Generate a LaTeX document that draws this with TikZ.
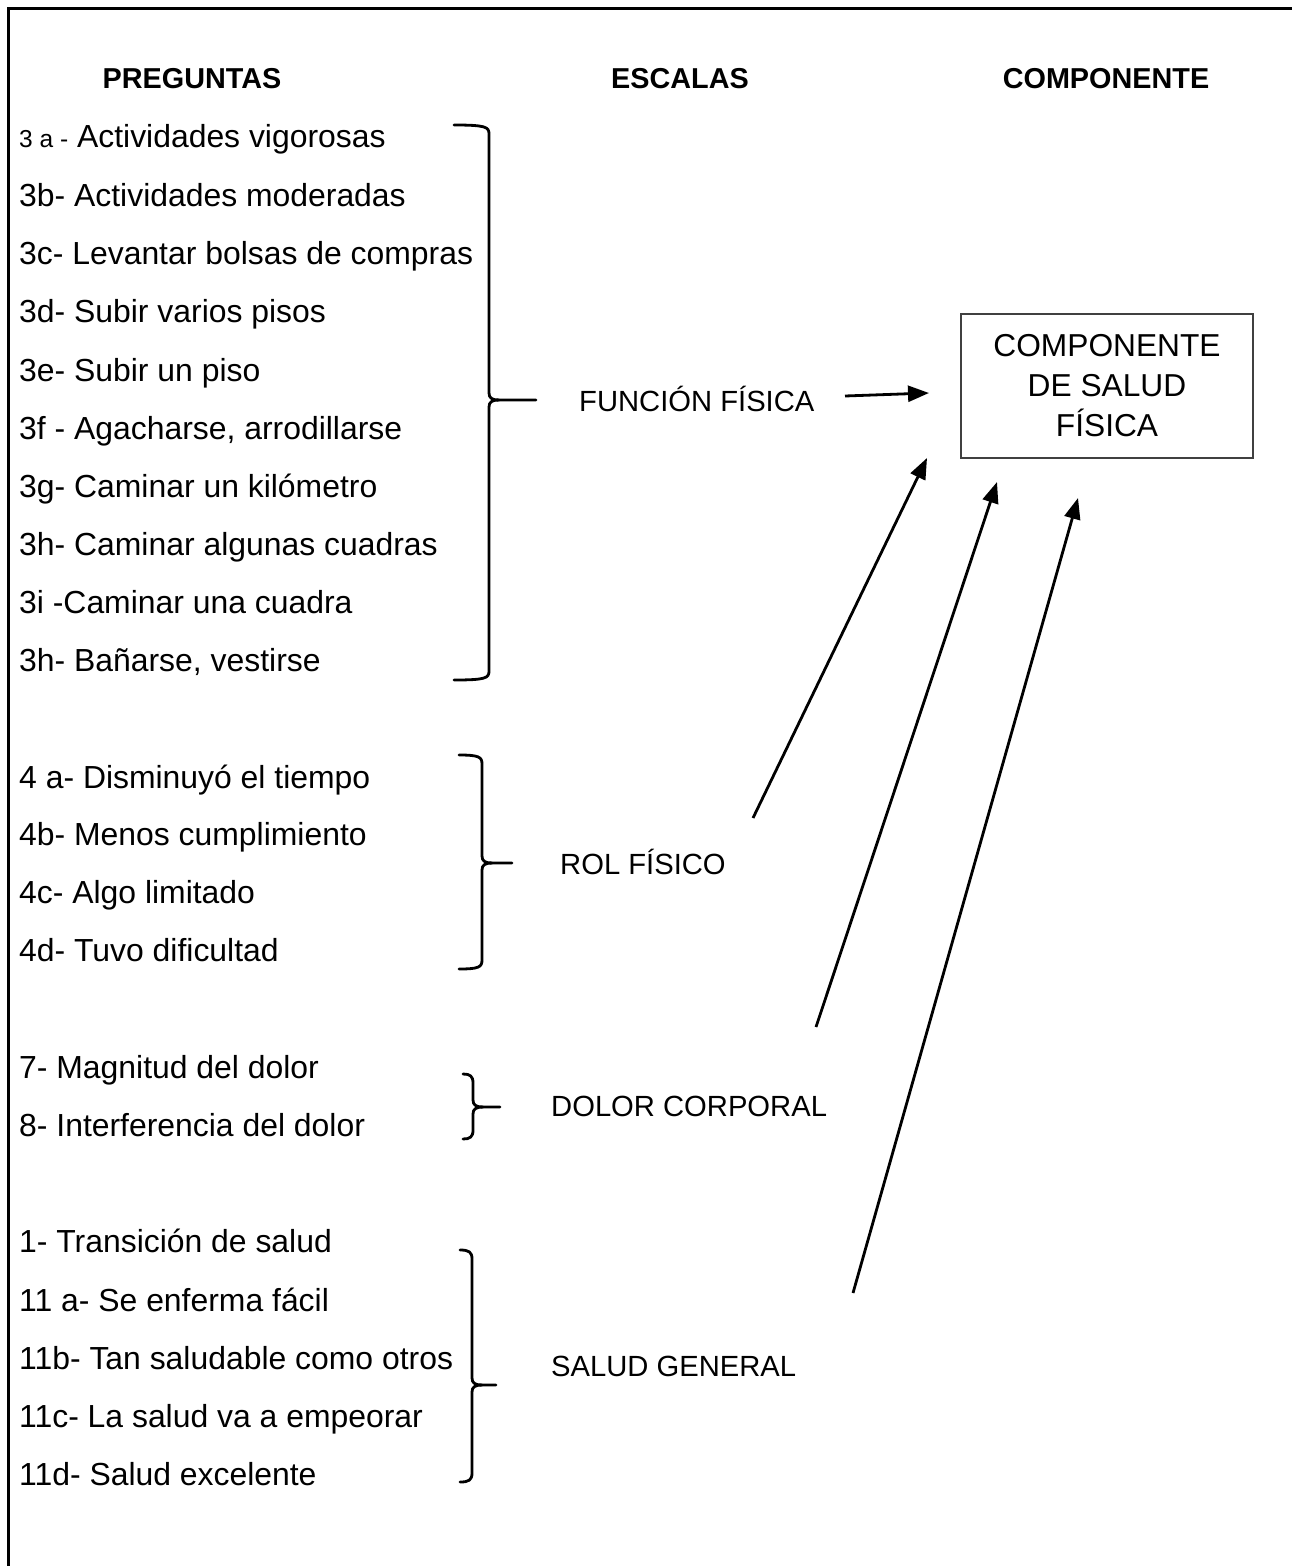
\documentclass[tikz,border=0pt]{standalone}
\usepackage{fontspec}
\setmainfont{Liberation Sans}
\usetikzlibrary{arrows.meta}
\newcommand{\mybrk}[6]{% hx, x, top, tip, bot, xe
\draw[brk] (#1,#3) .. controls ({#2-3},#3) and (#2,{#3+2}) .. (#2,{#3+9}) -- (#2,{#4-7}) .. controls (#2,{#4-2}) and ({#2+3},#4) .. ({#2+10},#4) -- (#6,#4);
\draw[brk] ({#2+10},#4) .. controls ({#2+3},#4) and (#2,{#4+2}) .. (#2,{#4+7}) -- (#2,{#5-9}) .. controls (#2,{#5-2}) and ({#2-3},#5) .. (#1,#5);}
\begin{document}
\begin{tikzpicture}[x=1pt,y=-1pt,
  q/.style={anchor=base west, inner sep=0pt, font=\fontsize{31.9}{38}\selectfont},
  hdr/.style={anchor=base, inner sep=0pt, font=\fontsize{28.8}{34}\selectfont\bfseries},
  sc/.style={anchor=base west, inner sep=0pt, font=\fontsize{29.2}{35}\selectfont},
  brk/.style={line width=2.8pt, line join=round, line cap=round},
  arr/.style={line width=2.8pt, -{Triangle[length=21pt,width=16pt]}},
  boxst/.style={draw=black!75, line width=1.5pt, minimum width=292pt, minimum height=144pt, inner sep=0pt, align=center, font=\fontsize{31.7}{40}\selectfont}]
\useasboundingbox (0,0) rectangle (1291,1566);
% frame
\draw[line width=3pt] (8,1580) -- (8,8) -- (1300,8);
% headers
\node[hdr] (hp) at (192,88) {PREGUNTAS};
\node[hdr] (he) at (680,88) {ESCALAS};
\node[hdr] (hc) at (1106,88) {COMPONENTE};
% group 1
\node[q] (q3a) at (19,147) {{\fontsize{24.5}{28}\selectfont 3 a -} Actividades vigorosas};
\node[q] (q3b) at (19,206) {3b- Actividades moderadas};
\node[q] (q3c) at (19,264) {3c- Levantar bolsas de compras};
\node[q] (q3d) at (19,322) {3d- Subir varios pisos};
\node[q] (q3e) at (19,381) {3e- Subir un piso};
\node[q] (q3f) at (19,439) {3f - Agacharse, arrodillarse};
\node[q] (q3g) at (19,497) {3g- Caminar un kilómetro};
\node[q] (q3h) at (19,555) {3h- Caminar algunas cuadras};
\node[q] (q3i) at (19,613) {3i -Caminar una cuadra};
\node[q] (q3j) at (19,671) {3h- Bañarse, vestirse};
% group 2
\node[q] (q4a) at (19,788) {4 a- Disminuyó el tiempo};
\node[q] (q4b) at (19,845) {4b- Menos cumplimiento};
\node[q] (q4c) at (19,903) {4c- Algo limitado};
\node[q] (q4d) at (19,961) {4d- Tuvo dificultad};
% group 3
\node[q] (q7) at (19,1078) {7- Magnitud del dolor};
\node[q] (q8) at (19,1136) {8- Interferencia del dolor};
% group 4
\node[q] (q1) at (19,1252) {1- Transición de salud};
\node[q] (q11a) at (19,1311) {11 a- Se enferma fácil};
\node[q] (q11b) at (19,1369) {11b- Tan saludable como otros};
\node[q] (q11c) at (19,1427) {11c- La salud va a empeorar};
\node[q] (q11d) at (19,1485) {11d- Salud excelente};
% brackets
\mybrk{454}{489}{125}{400}{680}{536}
\mybrk{459}{482}{755}{863}{969}{512}
\mybrk{463}{473}{1074}{1107}{1139}{500}
\mybrk{460}{472}{1250}{1385}{1482}{496}
% scales
\node[sc] (ff) at (579,411) {FUNCIÓN FÍSICA};
\node[sc] (rf) at (560,874) {ROL FÍSICO};
\node[sc] (dc) at (551,1116) {DOLOR CORPORAL};
\node[sc] (sg) at (551,1376) {SALUD GENERAL};
% component box
\node[boxst] (box) at (1107,386) {COMPONENTE\\DE SALUD\\FÍSICA};
% arrow ends
\coordinate (a1s) at (845,396); \coordinate (a1e) at (929,393);
\coordinate (a2s) at (753,818); \coordinate (a2e) at (927,458);
\coordinate (a3s) at (816,1027); \coordinate (a3e) at (997,482);
\coordinate (a4s) at (853,1293); \coordinate (a4e) at (1078,498);
\draw[arr] (a1s) -- (a1e);
\draw[arr] (a2s) -- (a2e);
\draw[arr] (a3s) -- (a3e);
\draw[arr] (a4s) -- (a4e);
\end{tikzpicture}
\end{document}
